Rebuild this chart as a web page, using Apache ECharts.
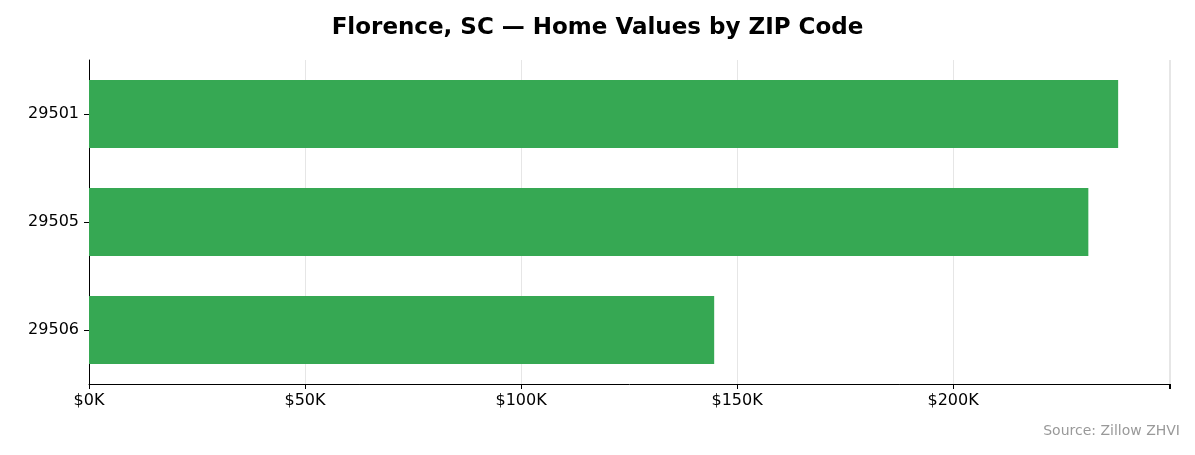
<!DOCTYPE html>
<html><head><meta charset="utf-8">
<script src="https://cdn.jsdelivr.net/npm/echarts@6/dist/echarts.min.js"></script>
<style>html,body{margin:0;padding:0;background:#fff}#c{width:1195px;height:455px}</style>
</head><body><div id="c"></div>
<script>
const categories = ['29501', '29505', '29506'];
const values = [238200, 231300, 144700];
const tickValues = [0, 50000, 100000, 150000, 200000];

const chart = echarts.init(document.getElementById('c'));
chart.setOption({
  animation: false,
  title: { text: 'Florence, SC — Home Values by ZIP Code', left: 'center', top: 12,
    textStyle: { fontFamily: 'DejaVu Sans', fontSize: 23, fontWeight: 'bold', color: '#000' } },
  graphic: [{ type: 'text', right: 15, top: 424,
    style: { text: 'Source: Zillow ZHVI', fill: '#999', font: '14px "DejaVu Sans"' } }],
  grid: { left: 89, right: 25, top: 60, bottom: 71 },
  xAxis: { type: 'value', min: 0, max: 250200, interval: 50000,
    axisLine: { show: true, lineStyle: { color: '#000' } },
    axisTick: { show: true, length: 5, lineStyle: { color: '#000' } },
    splitLine: { show: true, lineStyle: { color: '#e6e6e6' } },
    axisLabel: { fontFamily: 'DejaVu Sans', fontSize: 16, color: '#000', margin: 9,
      formatter: v => tickValues.includes(v) ? '$' + (v / 1000) + 'K' : '' } },
  yAxis: { type: 'category', data: categories, inverse: true,
    axisLine: { show: true, lineStyle: { color: '#000' } },
    axisTick: { show: true, alignWithLabel: true, length: 5, lineStyle: { color: '#000' } },
    axisLabel: { fontFamily: 'DejaVu Sans', fontSize: 16, color: '#000', margin: 10 } },
  series: [{ type: 'bar', data: values, barWidth: '63%', itemStyle: { color: '#36a853' } }]
});
</script></body></html>
